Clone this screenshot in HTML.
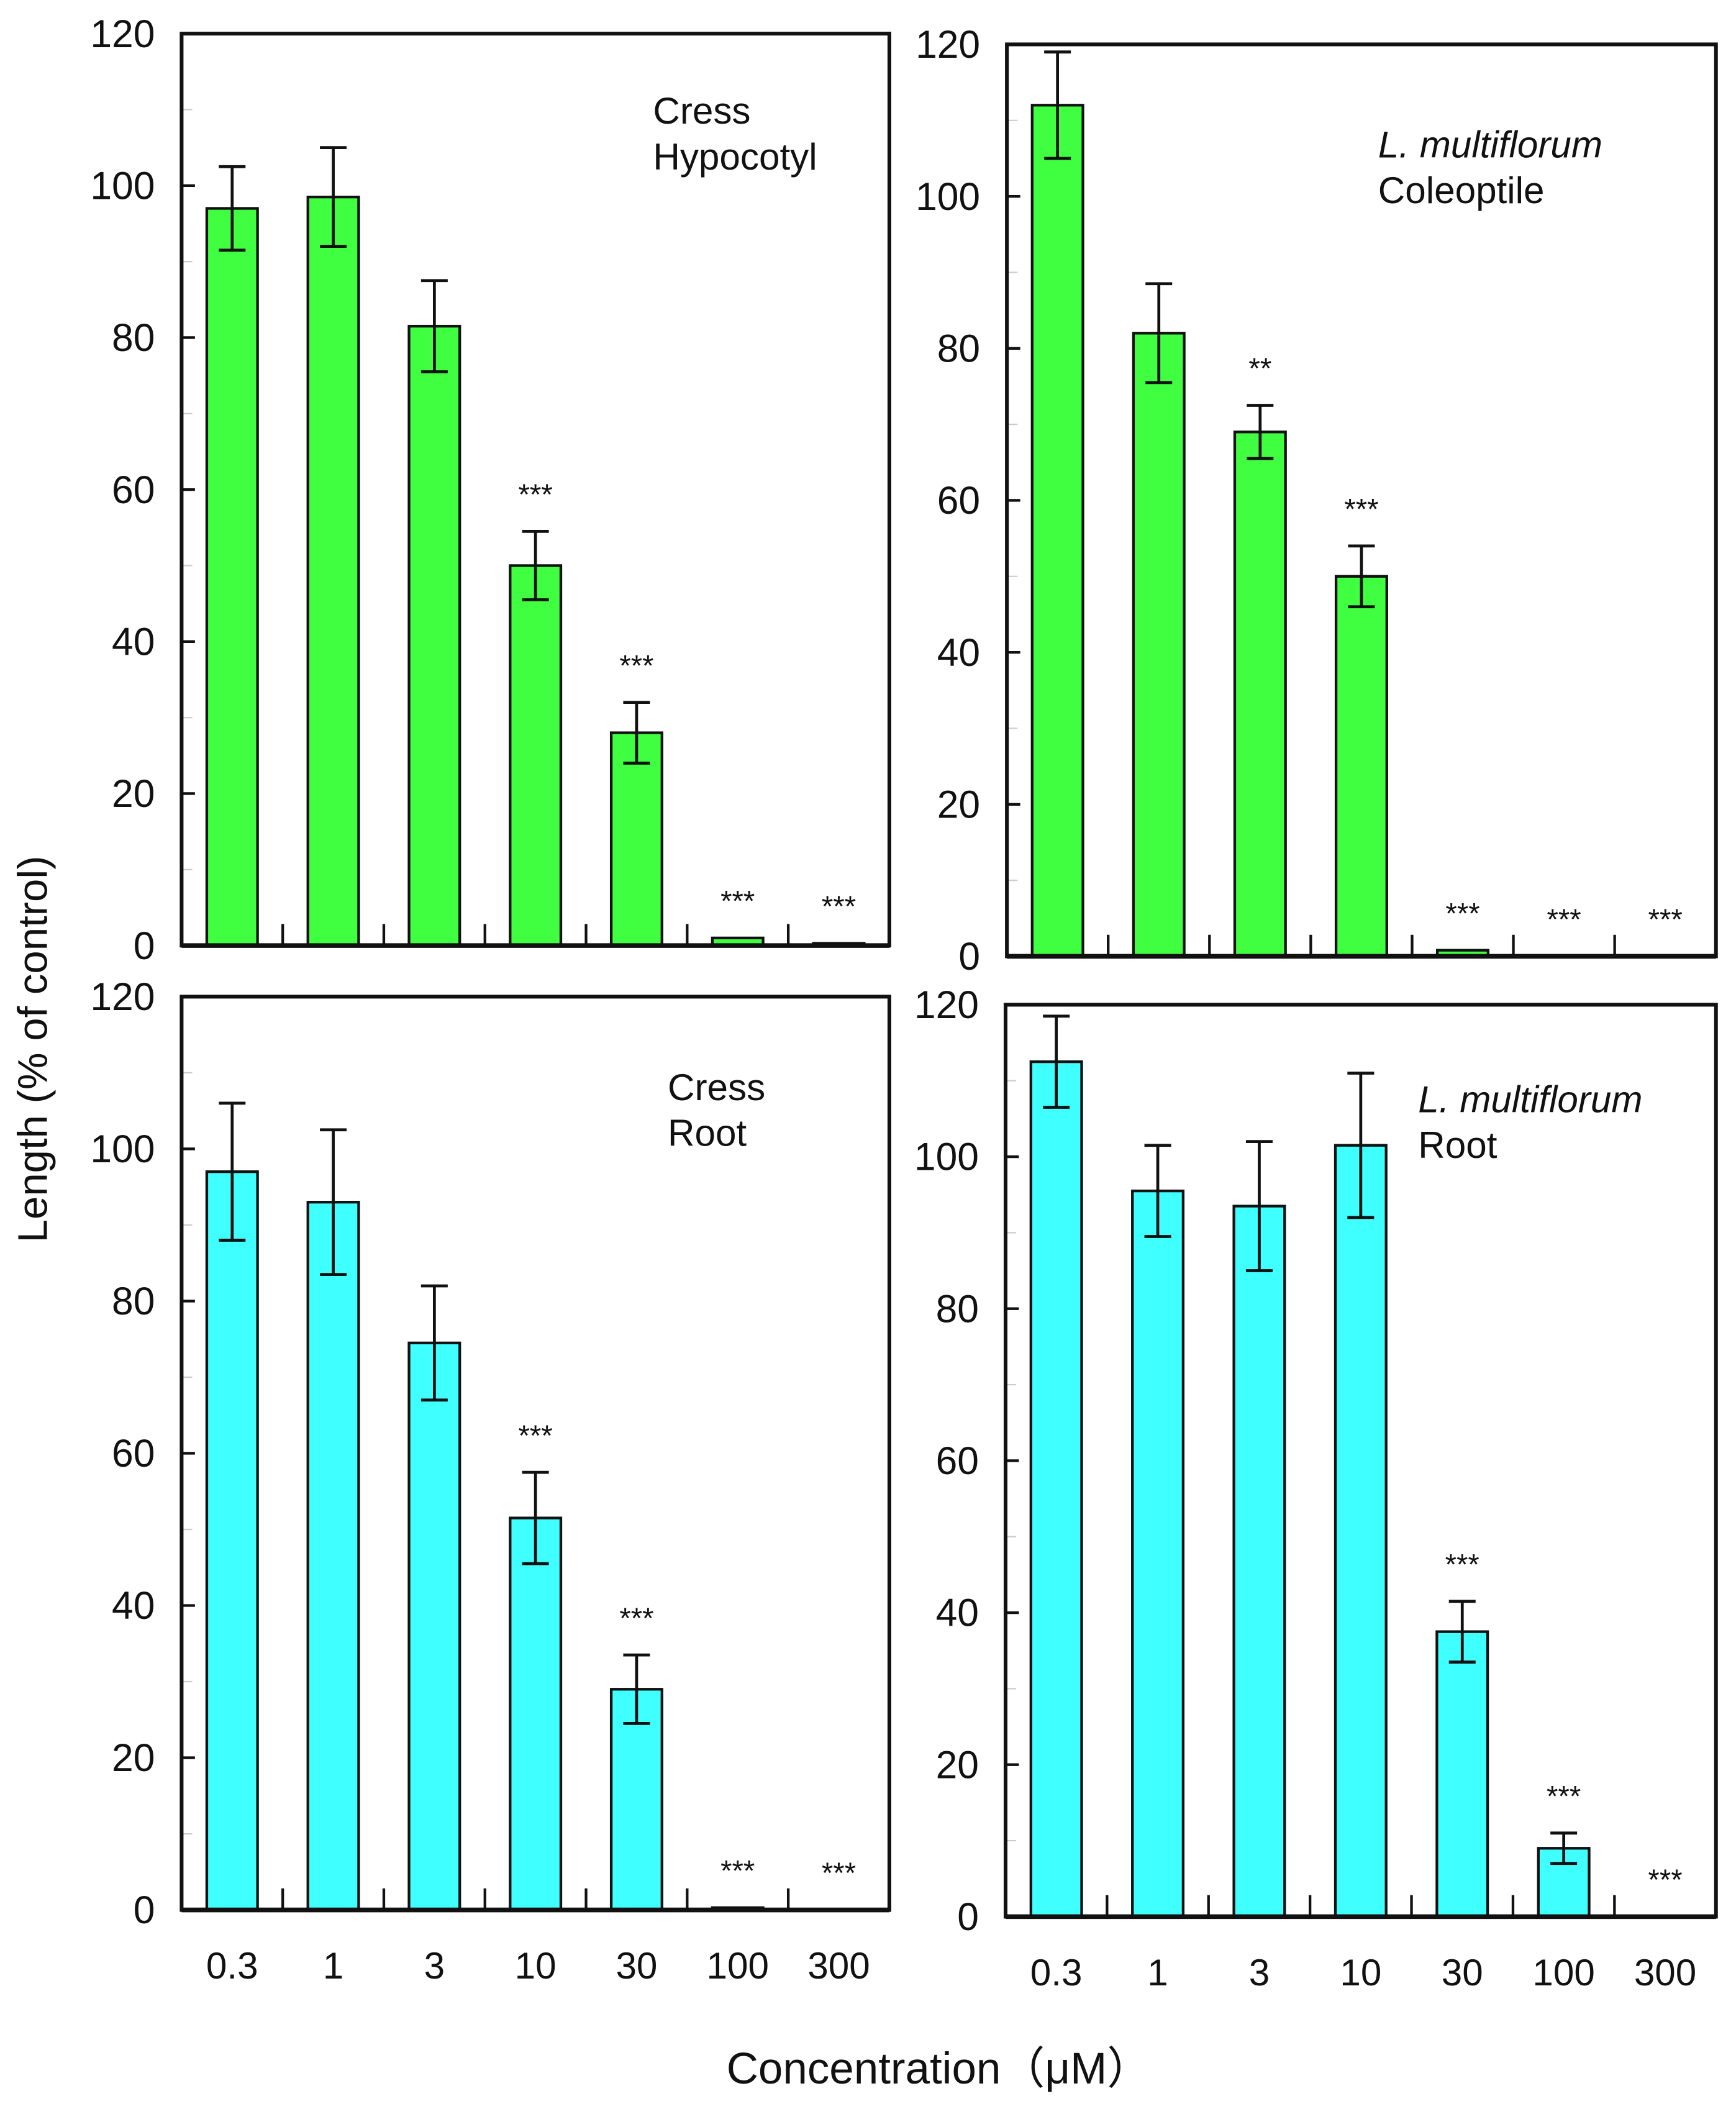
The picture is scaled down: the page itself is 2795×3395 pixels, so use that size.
<!DOCTYPE html>
<html><head><meta charset="utf-8"><style>
html,body{margin:0;padding:0;background:#fff;}
svg{display:block;}
text{font-family:"Liberation Sans","Noto Sans CJK JP",sans-serif;fill:#111;}
</style></head><body>
<svg id="fig" xmlns="http://www.w3.org/2000/svg" width="2795" height="3395" viewBox="0 0 1300 1568" preserveAspectRatio="none">
<rect x="0" y="0" width="1300" height="1568" fill="#fff"/>
<text x="0" y="0" font-size="31" text-anchor="middle" transform="translate(35,780) rotate(-90)">Length  (% of control)</text>
<text x="703" y="1549" font-size="33" text-anchor="middle">Concentration（μM）</text>
</svg>
<script>
const categories = ["0.3","1","3","10","30","100","300"];
const yTicks = [0,20,40,60,80,100,120];
const tlValues = [97,98.5,81.5,50,28,1,0.3];
const tlErrors = [5.5,6.5,6,4.5,4,0,0];
const tlStars = ["","","","***","***","***","***"];
const trValues = [112,82,69,50,0.8,0,0];
const trErrors = [7,6.5,3.5,4,0,0,0];
const trStars = ["","","**","***","***","***","***"];
const blValues = [97,93,74.5,51.5,29,0.3,0];
const blErrors = [9,9.5,7.5,6,4.5,0,0];
const blStars = ["","","","***","***","***","***"];
const brValues = [112.5,95.5,93.5,101.5,37.5,9,0];
const brErrors = [6,6,8.5,9.5,4,2,0];
const brStars = ["","","","","***","***","***"];

const NS="http://www.w3.org/2000/svg";
const svg=document.getElementById('fig');
function mk(tag,attrs,parent){const e=document.createElementNS(NS,tag);for(const k in attrs)e.setAttribute(k,attrs[k]);(parent||svg).appendChild(e);return e;}

function panel(name,box,vals,errs,stars,color,labels,xlabels,xlabY){
  const g=mk('g',{});
  
  
  const y=v=>box.b-(v/120)*(box.b-box.t);
  const step=(box.r-box.l)/7;
  const x=i=>box.l+step*(i+0.5);
  for(let v=10;v<120;v+=20){
    const t=mk('line',{x1:box.l,x2:box.l+8,y1:y(v),y2:y(v),stroke:'#ccc','stroke-width':1},g);
    
    
  }
  yTicks.forEach(v=>{
    const t=mk('line',{x1:box.l,x2:box.l+10,y1:y(v),y2:y(v),stroke:'#111','stroke-width':2},g);
    
    
    const lb=mk('text',{x:box.l-20,y:y(v)+10,'font-size':29,'text-anchor':'end'},g);
    lb.textContent=v;
    
    
  });
  for(let i=1;i<7;i++){
    const t=mk('line',{x1:box.l+step*i,x2:box.l+step*i,y1:box.b,y2:box.b-16,stroke:'#111','stroke-width':2},g);
    
    
  }
  const bw=38;
  vals.forEach((v,i)=>{
    if(v>0){
      const b=mk('rect',{x:x(i)-bw/2,y:y(v),width:bw,height:box.b-y(v),fill:color,stroke:'#111','stroke-width':2},g);
      
      
    }
    const e=errs[i];
    if(e>0){
      const eg=mk('g',{stroke:'#111','stroke-width':2.2},g);
      
      
      mk('line',{x1:x(i),x2:x(i),y1:y(v+e),y2:y(v-e)},eg);
      mk('line',{x1:x(i)-10,x2:x(i)+10,y1:y(v+e),y2:y(v+e)},eg);
      mk('line',{x1:x(i)-10,x2:x(i)+10,y1:y(v-e),y2:y(v-e)},eg);
    }
    if(stars[i]){
      const s=mk('text',{x:x(i),y:y(v+e)-20,'font-size':22,'text-anchor':'middle'},g);
      s.textContent=stars[i];
      
      
    }
    if(xlabels){
      const t=mk('text',{x:x(i),y:xlabY,'font-size':28,'text-anchor':'middle'},g);
      t.textContent=categories[i];
      
      
    }
  });
  const f=mk('rect',{x:box.l,y:box.t,width:box.r-box.l,height:box.b-box.t,fill:'none',stroke:'#111','stroke-width':2.8},g);
  
  
  const ax=mk('line',{x1:box.l,x2:box.r,y1:box.b,y2:box.b,stroke:'#111','stroke-width':3.5},g);
  
  
  labels.forEach(l=>{
    const t=mk('text',{x:l.x,y:l.y,'font-size':28},g);
    if(l.it)t.setAttribute('font-style','italic');
    t.textContent=l.t;
    
    
  });
}
panel('panel-cress-hypocotyl',{l:136,r:666,t:25,b:703},tlValues,tlErrors,tlStars,'#40ff40',
  [{t:'Cress',x:489,y:92},{t:'Hypocotyl',x:489,y:126}],false);
panel('panel-lm-coleoptile',{l:754,r:1285,t:33,b:711},trValues,trErrors,trStars,'#40ff40',
  [{t:'L. multiflorum',x:1032,y:117,it:true},{t:'Coleoptile',x:1032,y:151}],false);
panel('panel-cress-root',{l:136,r:666,t:741,b:1420},blValues,blErrors,blStars,'#40ffff',
  [{t:'Cress',x:500,y:818},{t:'Root',x:500,y:852}],true,1471);
panel('panel-lm-root',{l:753,r:1285,t:747,b:1425},brValues,brErrors,brStars,'#40ffff',
  [{t:'L. multiflorum',x:1062,y:827,it:true},{t:'Root',x:1062,y:861}],true,1476);
</script>
</body></html>
